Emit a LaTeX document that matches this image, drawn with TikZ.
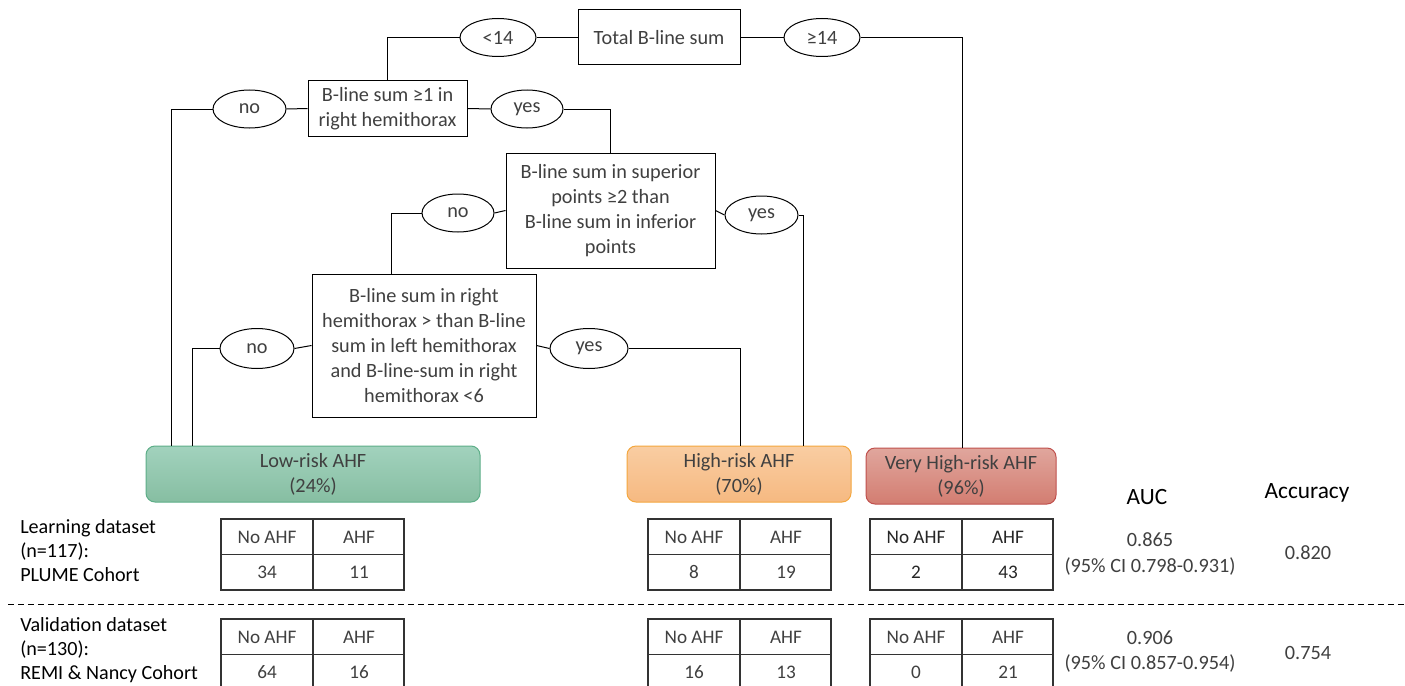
\documentclass[tikz,border=0pt]{standalone}
\usepackage{fontspec}
\setmainfont{Carlito}
\usetikzlibrary{shapes.geometric,calc}
\definecolor{txt}{HTML}{404040}
\definecolor{lowtop}{HTML}{A2D2BD}
\definecolor{lowbot}{HTML}{86BEA2}
\definecolor{lowedge}{HTML}{5DAE88}
\definecolor{hitop}{HTML}{F9CDA2}
\definecolor{hibot}{HTML}{F6B981}
\definecolor{hiedge}{HTML}{F4A73E}
\definecolor{vhtop}{HTML}{E0A69D}
\definecolor{vhbot}{HTML}{D37D71}
\definecolor{vhedge}{HTML}{C0504D}
\newcommand\pxu[1]{#1*0.75pt}
\newcommand\ahftab[6]{%
  \draw[tabline] (#2,#3) rectangle ++(183,71);
  \draw[tabline] (#2,#3+35.5) -- ++(183,0);
  \draw[tabline] (#2+92,#3) -- ++(0,71);
  \node[cell,#6] (#1na) at (#2+46,#3+18) {No AHF};
  \node[cell,#6] (#1ah) at (#2+138,#3+18) {AHF};
  \node[cell,#6] (#1v1) at (#2+46,#3+53) {#4};
  \node[cell,#6] (#1v2) at (#2+138,#3+53) {#5};
}
\tikzset{
  base/.style={font=\fontsize{15.2}{18.6}\selectfont, text=txt},
  qbox/.style={base, draw=black, line width=0.75pt, align=center, inner sep=0pt},
  lab/.style={base, draw=black, line width=0.75pt, ellipse, inner sep=0pt,
    minimum width=\pxu{76}, minimum height=\pxu{38}},
  conn/.style={draw=black, line width=0.75pt},
  outc/.style={base, rounded corners=\pxu{9}, line width=0.75pt, align=center, inner sep=0pt},
  tabline/.style={draw=txt!80!black, line width=0.9pt},
  cell/.style={font=\fontsize{14.4}{16}\selectfont, text=txt, inner sep=0pt},
  dark/.style={text=black!85},
  side/.style={font=\fontsize{15.1}{18}\selectfont, text=black, align=left, anchor=north west, inner sep=0pt},
  metric/.style={font=\fontsize{15.2}{18.8}\selectfont, text=txt, align=center, inner sep=0pt},
  head/.style={font=\fontsize{17.5}{20}\selectfont, text=black, inner sep=0pt}
}
\begin{document}
\begin{tikzpicture}[x=0.75pt,y=-0.75pt]
\clip (0,0) rectangle (1405,685);
\fill[white] (0,0) rectangle (1405,685);

% decision boxes
\node[qbox, minimum width=\pxu{162}, minimum height=\pxu{55}] (tot) at (659,37.5) {Total B-line sum};
\node[lab] (lt14) at (498,37.5) {<14};
\node[lab] (ge14) at (822,37.5) {≥14};

\node[qbox, minimum width=\pxu{159}, minimum height=\pxu{55}] (b1) at (387.5,108.5) {B-line sum ≥1 in\\right hemithorax};
\node[lab, minimum width=\pxu{73}] (no1) at (249.5,109) {no};
\node[lab, minimum width=\pxu{72}] (yes1) at (527,109) {yes};

\node[qbox, minimum width=\pxu{209}, minimum height=\pxu{115}] (sup) at (610.5,210.5) {B-line sum in superior\\points ≥2 than\\B-line sum in inferior\\points};
\node[lab, minimum width=\pxu{72}] (no2) at (458,213) {no};
\node[lab, minimum width=\pxu{73}] (yes2) at (761.5,215) {yes};

\node[qbox, minimum width=\pxu{224}, minimum height=\pxu{143}] (rh) at (424,345.5) {B-line sum in right\\hemithorax > than B-line\\sum in left hemithorax\\and B-line-sum in right\\hemithorax <6};
\node[lab, minimum width=\pxu{74}, minimum height=\pxu{40}] (no3) at (257,348.5) {no};
\node[lab, minimum width=\pxu{78}, minimum height=\pxu{40}] (yes3) at (589,348.5) {yes};

% outcome boxes
\node[outc, draw=lowedge, top color=lowtop, bottom color=lowbot, minimum width=\pxu{334}, minimum height=\pxu{56}] (low) at (313,474) {Low-risk AHF\\(24\%)};
\node[outc, draw=hiedge, top color=hitop, bottom color=hibot, minimum width=\pxu{224}, minimum height=\pxu{56}] (hi) at (739,474) {High-risk AHF\\(70\%)};
\node[outc, draw=vhedge, top color=vhtop, bottom color=vhbot, minimum width=\pxu{190}, minimum height=\pxu{56}] (vh) at (961,476) {Very High-risk AHF\\(96\%)};

\coordinate (lowa) at (171,446);
\coordinate (lowb) at (192,446);
\coordinate (hia) at (740,446);
\coordinate (hib) at (803,446);
\coordinate (vha) at (962,448);
\coordinate (rht) at (391,274);

% connectors
\draw[conn] (tot.west) -- (lt14.east);
\draw[conn] (lt14.west) -| (b1.north);
\draw[conn] (tot.east) -- (ge14.west);
\draw[conn] (ge14.east) -| (vha);
\draw[conn] (b1.west) -- (no1.east);
\draw[conn] (no1.west) -| (lowa);
\draw[conn] (b1.east) -- (yes1.west);
\draw[conn] (yes1.east) -| (sup.north);
\draw[conn] (sup.west) -- (no2.east);
\draw[conn] (no2.west) -| (rht);
\draw[conn] (sup.east) -- (yes2.west);
\draw[conn] (yes2.east) -| (hib);
\draw[conn] (rh.west) -- (no3.east);
\draw[conn] (no3.west) -| (lowb);
\draw[conn] (rh.east) -- (yes3.west);
\draw[conn] (yes3.east) -| (hia);

% side labels
\node[side] (learn) at (20,519) {Learning dataset\\(n=117):\\PLUME Cohort};
\node[side] (valid) at (20,617) {Validation dataset\\(n=130):\\REMI \& Nancy Cohort};

% dashed separator
\draw[draw=black, line width=0.75pt, dash pattern=on 4.5pt off 3pt] (8,604) -- (1405,604);

% tables
\ahftab{lA}{221}{519}{34}{11}{}
\ahftab{hA}{648}{519}{8}{19}{}
\ahftab{vA}{870}{519}{2}{43}{dark}
\ahftab{lB}{221}{619}{64}{16}{}
\ahftab{hB}{648}{619}{16}{13}{}
\ahftab{vB}{870}{619}{0}{21}{}

% metrics
\node[head] (auc) at (1147,497) {AUC};
\node[head] (acc) at (1307,493) {Accuracy};
\node[metric] (aucA) at (1150,554) {0.865\\(95\% CI 0.798-0.931)};
\node[metric] (accA) at (1308,553) {0.820};
\node[metric] (aucB) at (1150,652) {0.906\\(95\% CI 0.857-0.954)};
\node[metric] (accB) at (1308,653) {0.754};
\end{tikzpicture}
\end{document}
